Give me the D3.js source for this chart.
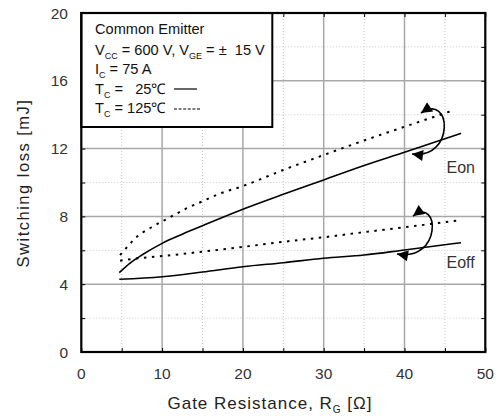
<!DOCTYPE html>
<html>
<head>
<meta charset="utf-8">
<script src="https://cdn.jsdelivr.net/npm/d3@7/dist/d3.min.js"></script>
<style>
  body { margin: 0; background: #fff; }
  svg { display: block; font-family: "Liberation Sans", Arial, sans-serif; }
  .tick-label { font-size: 15.5px; fill: #333; }
  .legend text { font-size: 14.6px; fill: #111; white-space: pre; }
</style>
</head>
<body>
<svg id="chart" width="499" height="416"></svg>
<script>
var xTicks = [0, 10, 20, 30, 40, 50];
var yTicks = [0, 4, 8, 12, 16, 20];

var eon25X = [4.7, 6, 7.5, 10, 12.5, 15, 20, 25, 30, 35, 40, 47];
var eon25Y = [4.68, 5.23, 5.72, 6.41, 6.95, 7.45, 8.42, 9.3, 10.15, 11.0, 11.78, 12.9];

var eon125X = [4.8, 5.7, 6.65, 8.7, 10.8, 12.8, 14.9, 17, 20, 25, 30, 35, 40, 46.2];
var eon125Y = [5.72, 6.21, 6.7, 7.36, 7.9, 8.42, 8.87, 9.32, 9.79, 10.74, 11.62, 12.48, 13.29, 14.28];

var eoff25X = [4.7, 10, 15, 20, 25, 30, 35, 40, 47];
var eoff25Y = [4.29, 4.44, 4.72, 5.03, 5.27, 5.53, 5.72, 6.02, 6.45];

var eoff125X = [4.8, 7.5, 10, 15, 20, 25, 30, 35, 40, 46.5];
var eoff125Y = [5.39, 5.55, 5.66, 5.92, 6.2, 6.5, 6.77, 7.07, 7.36, 7.75];

// curved arrows (data units): start, cp1, cp2, end
var eonArrow = [[42.04, 14.1], [45.88, 15.34], [46.25, 11.33], [40.93, 11.68]];
var eoffArrow = [[41.05, 8.02], [44.4, 9.2], [44.64, 5.31], [39.07, 5.78]];

var svg = d3.select("#chart");
var pLeft = 81.3, pRight = 485.3, pTop = 13, pBottom = 352;

var x = d3.scaleLinear().domain([0, 50]).range([pLeft, pRight]);
var y = d3.scaleLinear().domain([0, 20]).range([pBottom, pTop]);

// minor grid
var g = svg.append("g");
d3.range(5, 50, 10).forEach(function (v) {
  g.append("line").attr("x1", x(v)).attr("x2", x(v)).attr("y1", pTop).attr("y2", pBottom)
    .attr("stroke", "#c8c8c8").attr("stroke-dasharray", "1,2");
});
d3.range(2, 20, 4).forEach(function (v) {
  g.append("line").attr("x1", pLeft).attr("x2", pRight).attr("y1", y(v)).attr("y2", y(v))
    .attr("stroke", "#c8c8c8").attr("stroke-dasharray", "1,2");
});
// major grid
xTicks.slice(1, -1).forEach(function (v) {
  g.append("line").attr("x1", x(v)).attr("x2", x(v)).attr("y1", pTop).attr("y2", pBottom)
    .attr("stroke", "#a8a8a8").attr("stroke-width", 1.5);
});
yTicks.slice(1, -1).forEach(function (v) {
  g.append("line").attr("x1", pLeft).attr("x2", pRight).attr("y1", y(v)).attr("y2", y(v))
    .attr("stroke", "#a8a8a8").attr("stroke-width", 1.5);
});

// axes with inward ticks
function noDomain(a) { a.select(".domain").remove(); }
svg.append("g").attr("transform", "translate(0," + pBottom + ")")
  .call(d3.axisTop(x).tickValues(d3.range(0, 51, 5)).tickSize(4).tickFormat(""))
  .call(noDomain);
svg.append("g").attr("transform", "translate(0," + pTop + ")")
  .call(d3.axisBottom(x).tickValues(d3.range(0, 51, 5)).tickSize(4).tickFormat(""))
  .call(noDomain);
svg.append("g").attr("transform", "translate(" + pLeft + ",0)")
  .call(d3.axisRight(y).tickValues(d3.range(0, 21, 2)).tickSize(4).tickFormat(""))
  .call(noDomain);
svg.append("g").attr("transform", "translate(" + pRight + ",0)")
  .call(d3.axisLeft(y).tickValues(d3.range(0, 21, 2)).tickSize(4).tickFormat(""))
  .call(noDomain);

// tick labels
svg.append("g").selectAll("text").data(xTicks).enter().append("text")
  .attr("class", "tick-label")
  .attr("x", function (d) { return x(d); }).attr("y", 379)
  .attr("text-anchor", "middle").text(function (d) { return d; });
svg.append("g").selectAll("text").data(yTicks).enter().append("text")
  .attr("class", "tick-label")
  .attr("x", 68).attr("y", function (d) { return y(d) + 5.5; })
  .attr("text-anchor", "end").text(function (d) { return d; });

// axis titles
var xt = svg.append("text").attr("x", 270).attr("y", 409).attr("text-anchor", "middle")
  .style("font-size", "17px").style("letter-spacing", "1px").attr("fill", "#222");
xt.append("tspan").text("Gate Resistance, R");
xt.append("tspan").attr("dy", 4).style("font-size", "10px").text("G");
xt.append("tspan").attr("dy", -4).text(" [\u03A9]");

svg.append("text").attr("transform", "translate(29,183) rotate(-90)")
  .attr("text-anchor", "middle").style("font-size", "16.5px").style("letter-spacing", "1.5px")
  .attr("fill", "#222").text("Switching loss [mJ]");

// curves
function series(xs, ys) {
  return xs.map(function (v, i) { return [v, ys[i]]; });
}
var line = d3.line()
  .x(function (d) { return x(d[0]); })
  .y(function (d) { return y(d[1]); })
  .curve(d3.curveMonotoneX);

var curves = [
  { data: series(eon25X, eon25Y), dash: null },
  { data: series(eon125X, eon125Y), dash: "2.5,5.5" },
  { data: series(eoff25X, eoff25Y), dash: null },
  { data: series(eoff125X, eoff125Y), dash: "2.5,5.5" }
];
svg.append("g").selectAll("path").data(curves).enter().append("path")
  .attr("d", function (d) { return line(d.data); })
  .attr("fill", "none").attr("stroke", "#000")
  .attr("stroke-width", function (d) { return d.dash ? 2 : 1.6; })
  .attr("stroke-dasharray", function (d) { return d.dash; });

// arrows
svg.append("defs").append("marker").attr("id", "head")
  .attr("viewBox", "0 0 10 10").attr("refX", 10).attr("refY", 5)
  .attr("markerWidth", 15).attr("markerHeight", 11).attr("markerUnits", "userSpaceOnUse")
  .attr("orient", "auto-start-reverse")
  .append("path").attr("d", "M0,0L10,5L0,10z").attr("fill", "#000");

function arrowPath(p) {
  return "M" + x(p[0][0]) + "," + y(p[0][1]) +
    "C" + x(p[1][0]) + "," + y(p[1][1]) + " " + x(p[2][0]) + "," + y(p[2][1]) +
    " " + x(p[3][0]) + "," + y(p[3][1]);
}
[eonArrow, eoffArrow].forEach(function (p) {
  svg.append("path").attr("d", arrowPath(p)).attr("fill", "none")
    .attr("stroke", "#000").attr("stroke-width", 1.6)
    .attr("marker-start", "url(#head)").attr("marker-end", "url(#head)");
});

svg.append("text").attr("x", x(45.2)).attr("y", y(10.56)).style("font-size", "16px")
  .attr("fill", "#333").text("Eon");
svg.append("text").attr("x", x(45.2)).attr("y", y(4.96)).style("font-size", "16px")
  .attr("fill", "#333").text("Eoff");

// legend box
var lg = svg.append("g").attr("class", "legend");
lg.append("rect").attr("x", pLeft).attr("y", pTop).attr("width", 191).attr("height", 114)
  .attr("fill", "#fff").attr("stroke", "#000").attr("stroke-width", 2);

function sub(t, main, s) {
  t.append("tspan").text(main);
  t.append("tspan").attr("dy", 4).style("font-size", "9px").text(s);
  return t;
}
lg.append("text").attr("x", 95).attr("y", 34).text("Common Emitter");
var l2 = lg.append("text").attr("x", 95).attr("y", 55);
sub(l2, "V", "CC");
l2.append("tspan").attr("dy", -4).text(" = 600 V, V");
l2.append("tspan").attr("dy", 4).style("font-size", "9px").text("GE");
l2.append("tspan").attr("dy", -4).text(" = \u00B1  15 V");
var l3 = lg.append("text").attr("x", 95).attr("y", 74);
sub(l3, "I", "C");
l3.append("tspan").attr("dy", -4).text(" = 75 A");
var l4 = lg.append("text").attr("x", 95).attr("y", 94);
sub(l4, "T", "C");
l4.append("tspan").attr("dy", -4).text(" =   25\u2103");
var l5 = lg.append("text").attr("x", 95).attr("y", 113);
sub(l5, "T", "C");
l5.append("tspan").attr("dy", -4).text(" = 125\u2103");

lg.append("line").attr("x1", 174).attr("x2", 197).attr("y1", 89).attr("y2", 89)
  .attr("stroke", "#000").attr("stroke-width", 1.2);
lg.append("line").attr("x1", 174).attr("x2", 200).attr("y1", 109).attr("y2", 109)
  .attr("stroke", "#000").attr("stroke-width", 1.2).attr("stroke-dasharray", "3,1.6");

// frame
svg.append("rect").attr("x", pLeft).attr("y", pTop).attr("width", pRight - pLeft)
  .attr("height", pBottom - pTop).attr("fill", "none").attr("stroke", "#000").attr("stroke-width", 2.2);
</script>
</body>
</html>
